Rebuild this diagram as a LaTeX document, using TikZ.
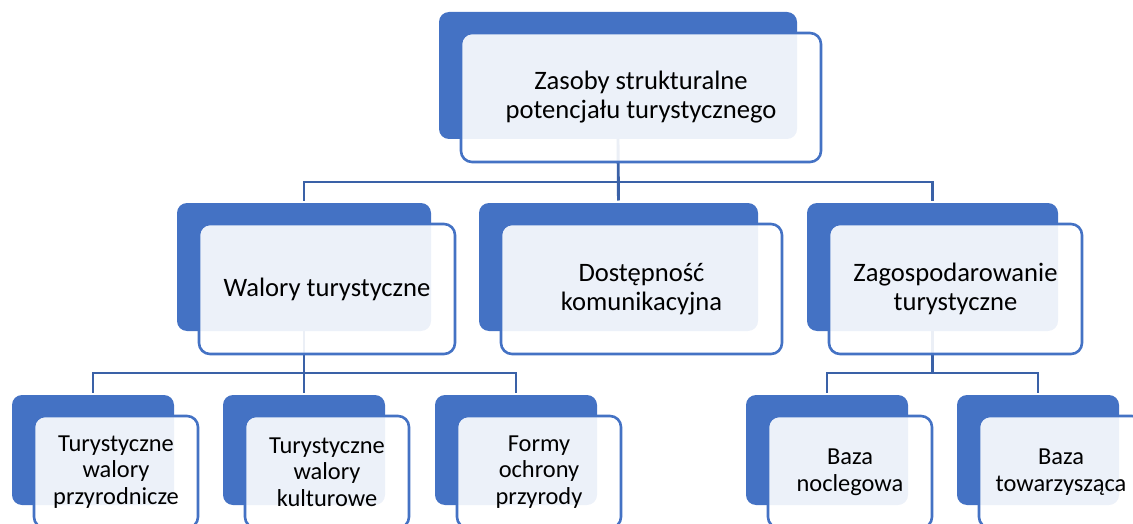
\documentclass[tikz,border=0pt]{standalone}
\usepackage{fontspec}
\setmainfont{Carlito}
\definecolor{accent}{HTML}{4472C4}
\definecolor{connc}{HTML}{3A61A7}
\begin{document}
\begin{tikzpicture}[x=1pt,y=-1pt,
  back/.style={draw=none, fill=accent, rounded corners=10pt, inner sep=0pt, outer sep=0pt, anchor=north west},
  front/.style={draw=accent, line width=2.6pt, fill=white, fill opacity=0.9, text opacity=1,
    rounded corners=11pt, inner sep=0pt, outer sep=0pt, anchor=north west, align=center, text=black},
  big/.style={font=\fontsize{26.6}{29}\selectfont},
  small/.style={font=\fontsize{24.4}{26.7}\selectfont},
  lvtwo/.style={minimum height=128pt},
  lvthree/.style={minimum width=162pt, minimum height=110pt},
  lvtwof/.style={minimum height=130pt},
  lvthreef/.style={minimum width=164pt, minimum height=112pt},
  conn/.style={draw=connc, line width=2.9pt, shorten >=2.5pt}
]
\useasboundingbox (0,0) rectangle (1133,524);
\clip (0,0) rectangle (1133,524);
% back boxes
\node[back, minimum width=358pt, minimum height=127pt] (b0) at (439,12) {};
\node[back, lvtwo, minimum width=254pt] (b1) at (177,203) {};
\node[back, lvtwo, minimum width=279pt] (b2) at (479,203) {};
\node[back, lvtwo, minimum width=251pt] (b3) at (807,203) {};
\node[back, lvthree] (bA) at (12,395) {};
\node[back, lvthree] (bB) at (223,395) {};
\node[back, lvthree] (bC) at (435,395) {};
\node[back, lvthree] (bD) at (746,395) {};
\node[back, lvthree] (bE) at (957,395) {};
% connectors
\draw[conn] (b0.south) -- ++(0,43) -| (b1.north);
\draw[conn] (b0.south) -- ++(0,43) -| (b3.north);
\draw[conn] (b0.south) -- (b2.north);
\draw[conn] (b1.south) -- ++(0,42) -| (bA.north);
\draw[conn] (b1.south) -- ++(0,42) -| (bC.north);
\draw[conn] (b1.south) -- (bB.north);
\draw[conn] (b3.south) -- ++(0,42) -| (bD.north);
\draw[conn] (b3.south) -- ++(0,42) -| (bE.north);
% front boxes
\node[front, big, minimum width=360pt, minimum height=129pt] (f0) at (461,33) {Zasoby strukturalne\\potencjału turystycznego};
\node[front, big, lvtwof, minimum width=256pt] (f1) at (199,224) {Walory turystyczne};
\node[front, big, lvtwof, minimum width=281pt] (f2) at (501,224) {Dostępność\\komunikacyjna};
\node[front, big, lvtwof, minimum width=253pt] (f3) at (829,224) {Zagospodarowanie\\turystyczne};
\node[front, small, lvthreef] (fA) at (34,416) {Turystyczne\\walory\\przyrodnicze};
\node[front, small, lvthreef] (fB) at (245,416) {Turystyczne\\walory\\kulturowe};
\node[front, small, lvthreef] (fC) at (457,416) {Formy\\ochrony\\przyrody};
\node[front, small, lvthreef] (fD) at (768,416) {Baza\\noclegowa};
\node[front, small, lvthreef] (fE) at (979,416) {Baza\\towarzysząca};
\end{tikzpicture}
\end{document}
